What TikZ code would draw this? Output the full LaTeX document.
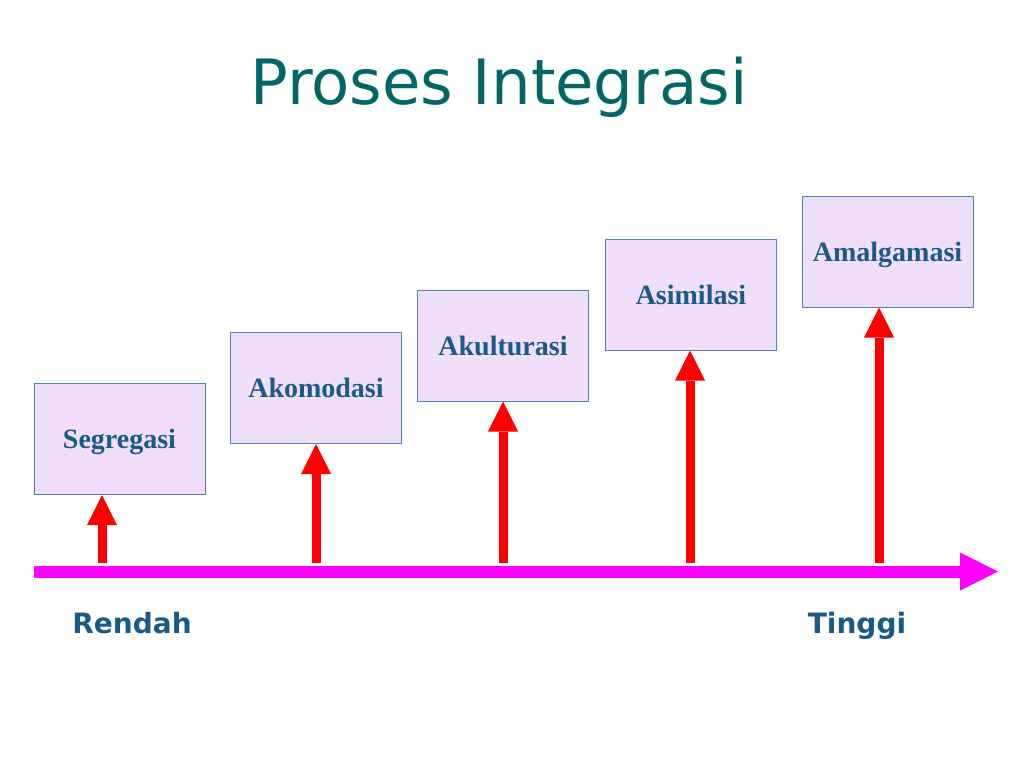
\documentclass[tikz,border=0pt]{standalone}
\usepackage{fontspec}
\setmainfont{Liberation Serif}
\newfontfamily\titlefont{DejaVu Sans}
\usetikzlibrary{arrows.meta}
\definecolor{titlecol}{RGB}{0,102,102}
\definecolor{txtcol}{RGB}{26,90,135}
\definecolor{boxfill}{RGB}{240,222,250}
\definecolor{boxline}{RGB}{79,129,189}
\definecolor{axiscol}{RGB}{255,0,255}
\definecolor{arrcol}{RGB}{255,0,0}
\tikzset{
  stagebox/.style={draw=boxline, line width=1pt, fill=boxfill, minimum width=171pt, minimum height=111pt,
    inner sep=0pt, text depth=0pt, text=txtcol, font=\fontsize{28}{30}\selectfont\bfseries},
  uparrow/.style={draw=arrcol, line width=9pt, -{Triangle[width=30pt,length=30pt,line width=0pt]}},
  axisline/.style={draw=axiscol, line width=12pt, -{Triangle[width=38pt,length=38pt,line width=0pt]}},
  endlabel/.style={text=txtcol, font=\titlefont\fontsize{28}{30}\selectfont\bfseries, inner sep=0pt, anchor=base}
}
\begin{document}
\begin{tikzpicture}[x=1pt,y=-1pt]
\useasboundingbox (0,0) rectangle (1024,768);
\node[text=titlecol, font=\titlefont\fontsize{62.5}{70}\selectfont, anchor=base, inner sep=0pt] (title) at (499,104) {Proses Integrasi};

\node[stagebox] (seg) at (119.5,439) {Segregasi};
\node[stagebox] (ako) at (316,388) {Akomodasi};
\node[stagebox] (aku) at (503,345.5) {Akulturasi};
\node[stagebox] (asi) at (691,294.5) {Asimilasi};
\node[stagebox] (ama) at (887.5,251.5) {Amalgamasi};

\coordinate (s1) at (102,563);
\coordinate (s2) at (316,563);
\coordinate (s3) at (503,563);
\coordinate (s4) at (690,563);
\coordinate (s5) at (879,563);
\draw[uparrow] (s1) -- (s1 |- seg.south);
\draw[uparrow] (s2) -- (s2 |- ako.south);
\draw[uparrow] (s3) -- (s3 |- aku.south);
\draw[uparrow] (s4) -- (s4 |- asi.south);
\draw[uparrow] (s5) -- (s5 |- ama.south);

\coordinate (axstart) at (34,571.5);
\coordinate (axend) at (998,571.5);
\draw[axisline] (axstart) -- (axend);

\node[endlabel] (low) at (132,633) {Rendah};
\node[endlabel] (high) at (857,633) {Tinggi};
\end{tikzpicture}
\end{document}
